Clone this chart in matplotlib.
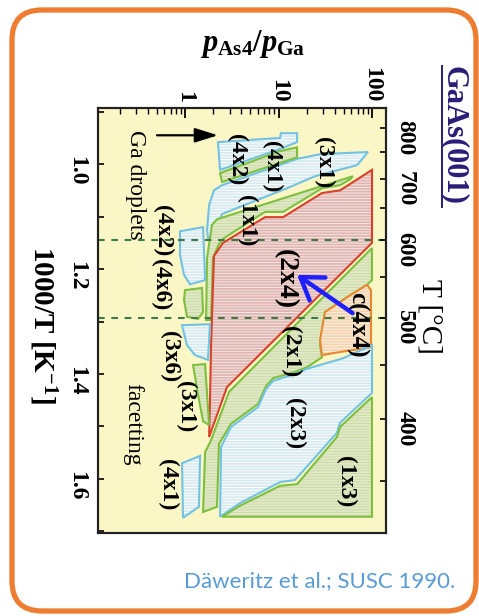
import matplotlib.pyplot as plt
import numpy as np
from matplotlib.patches import FancyBboxPatch
from matplotlib.ticker import FixedLocator, LogLocator, MultipleLocator, NullFormatter

plt.rcParams['font.family'] = ['Liberation Serif', 'DejaVu Serif']
plt.rcParams['mathtext.fontset'] = 'custom'
plt.rcParams['mathtext.rm'] = 'Liberation Serif:bold'
plt.rcParams['mathtext.it'] = 'Liberation Serif:italic:bold'
plt.rcParams['mathtext.bf'] = 'Liberation Serif:bold'
plt.rcParams['hatch.linewidth'] = 0.7

W, H = 479, 616

# GaAs(001) surface phases, corners given as (pAs4/pGa, 1000/T)
r_3x1 = [(90.6, 0.977), (69.1, 1.002), (24.6, 1.023), (12.3, 1.046), (2.49, 1.095),
         (2.04, 1.135), (1.76, 1.141), (1.72, 1.126), (1.81, 1.078), (2.04, 1.050),
         (2.49, 1.040), (15.8, 0.990), (27.8, 0.981)]
r_4x2_top = [(2.25, 0.958), (10.4, 0.950), (10.6, 0.941), (15.8, 0.941), (15.8, 0.958),
             (10.4, 0.971), (2.37, 1.011)]
r_4x1_top = [(2.37, 1.017), (10.4, 0.975), (15.8, 0.968), (15.8, 0.987), (2.49, 1.034)]
r_1x1 = [(62.6, 1.023), (13.3, 1.061), (2.20, 1.105), (1.94, 1.116), (1.72, 1.179),
         (1.68, 1.297), (1.90, 1.297), (1.99, 1.179), (2.31, 1.152), (2.61, 1.141),
         (7.17, 1.091), (11.2, 1.091), (29.2, 1.046), (45.5, 1.040), (58.2, 1.029)]
r_2x4 = [(100, 1.011), (100, 1.150), (2.81, 1.425), (1.81, 1.520), (1.85, 1.450),
         (1.90, 1.345), (1.94, 1.295), (2.04, 1.175), (2.55, 1.150), (7.17, 1.101),
         (11.2, 1.101), (29.2, 1.055), (45.5, 1.050)]
r_4x2_low = [(0.884, 1.128), (1.56, 1.120), (1.64, 1.221), (1.13, 1.229), (0.976, 1.211),
             (0.884, 1.173)]
r_4x6 = [(1.0, 1.240), (1.52, 1.236), (1.56, 1.282), (1.38, 1.295), (1.05, 1.291), (0.976, 1.259)]
r_3x6 = [(0.929, 1.307), (1.85, 1.305), (1.76, 1.373), (1.28, 1.364), (1.05, 1.345)]
r_3x1_low = [(1.22, 1.383), (1.64, 1.381), (1.81, 1.497), (1.56, 1.490), (1.38, 1.440)]
r_4x1_low = [(0.929, 1.570), (1.45, 1.556), (1.41, 1.653), (0.952, 1.674)]
r_2x1 = [(100, 1.160), (100, 1.221), (88.5, 1.230), (58.2, 1.250), (31.4, 1.282),
         (27.8, 1.345), (29.2, 1.368), (20.2, 1.387), (15.0, 1.396), (8.73, 1.408),
         (7.35, 1.423), (6.04, 1.457), (3.10, 1.495), (2.31, 1.533), (2.20, 1.653),
         (1.56, 1.663), (1.64, 1.549), (1.90, 1.526), (2.96, 1.434)]
r_c4x4 = [(31.4, 1.282), (58.2, 1.250), (88.5, 1.230), (97.6, 1.240), (97.6, 1.349),
          (45.5, 1.358), (29.2, 1.364), (27.8, 1.335)]
r_2x3 = [(100, 1.345), (49.0, 1.370), (20.2, 1.390), (15.0, 1.400), (8.73, 1.413),
         (7.35, 1.429), (6.04, 1.463), (3.10, 1.501), (2.43, 1.539), (2.37, 1.672),
         (3.87, 1.646), (10.4, 1.606), (15.0, 1.602), (42.2, 1.512), (45.5, 1.493),
         (100, 1.436)]
r_1x3 = [(100, 1.444), (100, 1.672), (2.49, 1.672), (3.87, 1.651), (10.4, 1.613),
         (15.8, 1.610), (42.2, 1.520), (45.5, 1.501)]

phase_labels = ['(3x1)', '(4x1)', '(4x2)', '(1x1)', '(4x2)', '(4x6)', '(3x6)', '(3x1)',
                '(4x1)', '(2x4)', 'c(4x4)', '(2x1)', '(2x3)', '(1x3)']
label_ratio = [30.7, 8.52, 3.60, 4.60, 0.582, 0.554, 0.675, 1.02, 0.658, 11.7, 69.1, 13.6, 15.0, 52.7]
label_invT = [0.998, 1.004, 0.992, 1.107, 1.126, 1.229, 1.366, 1.463, 1.611, 1.219, 1.307,
              1.358, 1.495, 1.606]
label_size = [17, 17, 17, 17, 17, 17, 17, 17, 17, 20, 18, 17, 17, 17]

dashed_T = [600, 500]            # deg C
T_major = [400, 500, 600, 700, 800]
T_minor = [350, 450, 550, 650, 750]

# (fill, outline, hatch lines)
BLUE = ('#d5e9ef', '#72c2e4', '#ffffff')
GREEN = ('#e2e9c6', '#7dbf3e', '#cbdaa8')
RED = ('#dfb6b2', '#d8412a', '#f6e6e4')
ORANGE = ('#f3d5b2', '#e8892f', '#fbeedd')

fig = plt.figure(figsize=(W / 100, H / 100), dpi=100)

# page background with the rounded orange frame
bg = fig.add_axes([0, 0, 1, 1], zorder=0)
bg.set_xlim(0, W)
bg.set_ylim(H, 0)
bg.axis('off')
bg.add_patch(FancyBboxPatch((12, 10), 464, 601, boxstyle='round,pad=0,rounding_size=30',
                            lw=3.8, ec='#ed7d31', fc='white'))

ax = fig.add_axes([98 / W, 1 - 533 / H, 288 / W, 425 / H], zorder=1)
ax.set_facecolor('#faf6c6')
ax.set_xscale('log')
ax.set_xlim(0.1173, 141.2)
ax.set_ylim(1.703, 0.893)


def region(pts, style, z):
    p, t = zip(*pts)
    fill, edge, hatch_col = style
    ax.fill(p, t, fc=fill, ec='none', zorder=z)
    ax.fill(p, t, fc='none', ec=hatch_col, lw=0, hatch='------', zorder=z)
    ax.fill(p, t, fc='none', ec=edge, lw=1.5, zorder=z + 0.05)


region(r_3x1, BLUE, 2.0)
region(r_4x2_top, BLUE, 2.0)
region(r_4x1_top, GREEN, 2.1)
region(r_1x1, GREEN, 2.2)
region(r_2x4, RED, 2.3)
region(r_2x1, GREEN, 2.2)
region(r_c4x4, ORANGE, 2.4)
region(r_2x3, BLUE, 2.4)
region(r_1x3, GREEN, 2.4)
region(r_4x2_low, BLUE, 2.4)
region(r_4x6, GREEN, 2.4)
region(r_3x6, BLUE, 2.4)
region(r_3x1_low, GREEN, 2.4)
region(r_4x1_low, BLUE, 2.4)

for tc in dashed_T:
    ax.axhline(1000 / (tc + 273.15), color='#3d7a47', lw=1.5, ls=(0, (3.2, 3.2)), zorder=3)

for lab, xr, yt, fs in zip(phase_labels, label_ratio, label_invT, label_size):
    ax.text(xr, yt, lab, rotation=-90, ha='center', va='center', fontsize=fs,
            fontweight='bold', zorder=5)

ax.text(0.292, 1.040, 'Ga droplets', rotation=-90, ha='center', va='center', fontsize=17, zorder=5)
ax.text(0.278, 1.495, 'facetting', rotation=-90, ha='center', va='center', fontsize=17, zorder=5)

ax.annotate('', xy=(2.25, 0.945), xytext=(0.502, 0.945), zorder=5,
            arrowprops=dict(arrowstyle='-|>,head_length=0.7,head_width=0.22', color='black',
                            lw=1.6, mutation_scale=20, shrinkA=0, shrinkB=0))
ax.annotate('', xy=(15.8, 1.211), xytext=(62.0, 1.284), zorder=6,
            arrowprops=dict(arrowstyle='->,head_length=0.75,head_width=0.5', color='#2020ff',
                            lw=3.2, mutation_scale=20, shrinkA=0, shrinkB=0))

# pressure ratio axis (top)
ax.xaxis.set_ticks_position('top')
ax.set_xticks([1, 10, 100], ['1', '10', '100'], fontweight='bold')
ax.xaxis.set_minor_locator(LogLocator(base=10, subs=np.arange(2, 10)))
ax.xaxis.set_minor_formatter(NullFormatter())
ax.tick_params(axis='x', which='both', direction='in', top=True, bottom=False,
               labeltop=True, labelbottom=False, labelrotation=-90, labelsize=17, pad=4)
ax.tick_params(axis='x', which='major', length=7, width=1.3)
ax.tick_params(axis='x', which='minor', length=4, width=1.0)

# inverse temperature axis (left)
ax.set_yticks([1.0, 1.2, 1.4, 1.6], ['1.0', '1.2', '1.4', '1.6'], fontweight='bold')
ax.yaxis.set_minor_locator(MultipleLocator(0.1))
ax.tick_params(axis='y', which='both', direction='in', left=True, right=False,
               labelrotation=-90, labelsize=17, pad=8, length=4, width=1.2)

# temperature axis (right)
ax2 = ax.twinx()
ax2.set_ylim(ax.get_ylim())
ax2.set_yticks(1000 / (np.array(T_major) + 273.15), [str(t) for t in T_major], fontweight='bold')
ax2.yaxis.set_minor_locator(FixedLocator(1000 / (np.array(T_minor) + 273.15)))
ax2.tick_params(axis='y', which='both', direction='in', labelrotation=-90, labelsize=17,
                pad=6, length=4, width=1.2)
ax2.tick_params(axis='x', which='both', top=False, bottom=False, labeltop=False, labelbottom=False)

for a in (ax, ax2):
    for s in a.spines.values():
        s.set_linewidth(1.5)
        s.set_color('#222222')

# axis titles and annotations on the page
bg.text(253, 44, r'$p_{\rm As4}/p_{\rm Ga}$', fontsize=22, ha='center', va='center')
bg.text(43, 325, r'1000/T [K$^{-1}$]', rotation=-90, fontsize=21, fontweight='bold',
        ha='center', va='center')
bg.text(430, 316, 'T [°C]', rotation=-90, fontsize=21, ha='center', va='center')
bg.text(454, 136, 'GaAs(001)', rotation=-90, fontsize=22, fontweight='bold', color='#2b1d77',
        ha='center', va='center')
bg.plot([442, 442], [66, 207], color='#2b1d77', lw=1.4)
bg.text(455, 581, 'Däweritz et al.; SUSC 1990.', ha='right', va='center', fontsize=16,
        color='#5b9bd5', family='Lato')

fig.savefig('out.png', dpi=100)
